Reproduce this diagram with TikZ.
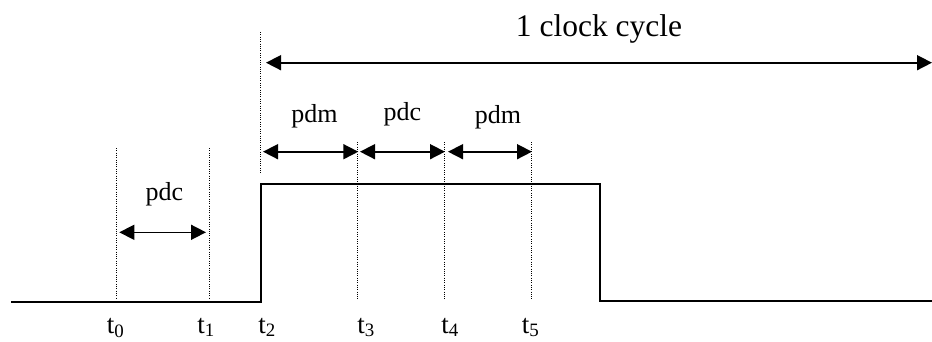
\documentclass[tikz,border=0pt]{standalone}
\usepackage{fontspec}
\setmainfont{Liberation Serif}
\usetikzlibrary{arrows.meta}
\tikzset{
  signal/.style={line width=2pt},
  guide/.style={line width=0.9pt, dash pattern=on 1pt off 1.3pt},
  span/.style={line width=1.6pt, {Triangle[length=15pt,width=15pt]}-{Triangle[length=15pt,width=15pt]}},
  lbl/.style={anchor=base, inner sep=0pt, font=\fontsize{26}{26}\selectfont},
  big/.style={anchor=base, inner sep=0pt, font=\fontsize{31.5}{31.5}\selectfont},
  tl/.style={anchor=base, inner sep=0pt, font=\fontsize{27}{27}\selectfont}
}
\begin{document}
\begin{tikzpicture}[x=1pt,y=-1pt]
\useasboundingbox (0,0) rectangle (932,341);
% signal
\coordinate (s0) at (11,301.5);
\coordinate (s1) at (261,301.5);
\coordinate (s2) at (261,184);
\coordinate (s3) at (600,184);
\coordinate (s4) at (600,300.5);
\coordinate (s5) at (932,300.5);
\draw[signal] (s0) -- (s1) -- (s2) -- (s3) -- (s4) -- (s5);
% guide lines
\coordinate (g0a) at (116.7,148); \coordinate (g0b) at (116.7,299);
\coordinate (g1a) at (209.3,148); \coordinate (g1b) at (209.3,299);
\coordinate (g2a) at (260.5,32);  \coordinate (g2b) at (260.5,173);
\coordinate (g3a) at (357.8,142); \coordinate (g3b) at (357.8,300);
\coordinate (g4a) at (444.2,142); \coordinate (g4b) at (444.2,300);
\coordinate (g5a) at (531.2,142); \coordinate (g5b) at (531.2,300);
\foreach \i in {0,...,5} \draw[guide] (g\i a) -- (g\i b);
% spans
\coordinate (c0) at (266,62.7); \coordinate (c1) at (932,62.7);
\draw[span] (c0) -- (c1);
\coordinate (a0) at (263,151.7); \coordinate (a1) at (358.3,151.7);
\coordinate (b0) at (360,151.7); \coordinate (b1) at (445,151.7);
\coordinate (d0) at (448,151.7); \coordinate (d1) at (532,151.7);
\coordinate (e0) at (119.3,232.3); \coordinate (e1) at (206,232.3);
\draw[span] (a0) -- (a1);
\draw[span] (b0) -- (b1);
\draw[span] (d0) -- (d1);
\draw[span] (e0) -- (e1);
% labels
\node[big] (clk) at (599,36) {1 clock cycle};
\node[lbl] (pdm1) at (314.5,122) {pdm};
\node[lbl] (pdc1) at (402.5,120) {pdc};
\node[lbl] (pdm2) at (498,123) {pdm};
\node[lbl] (pdc0) at (164.5,200) {pdc};
\node[tl] (t0) at (115.5,333) {t\textsubscript{0}};
\node[tl] (t1) at (206,333) {t\textsubscript{1}};
\node[tl] (t2) at (267,333) {t\textsubscript{2}};
\node[tl] (t3) at (366,333) {t\textsubscript{3}};
\node[tl] (t4) at (450,333) {t\textsubscript{4}};
\node[tl] (t5) at (530.5,333) {t\textsubscript{5}};
\end{tikzpicture}
\end{document}
